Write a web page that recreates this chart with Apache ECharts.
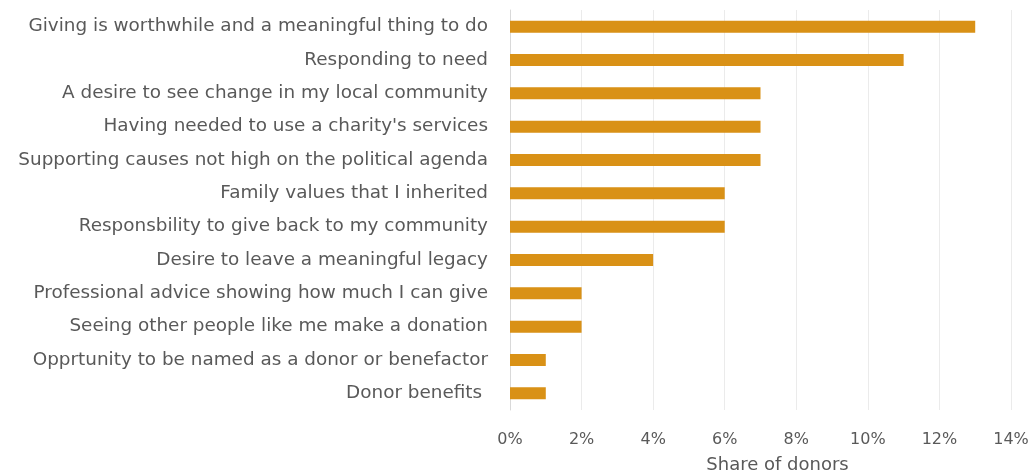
<!DOCTYPE html>
<html>
<head>
<meta charset="utf-8">
<script src="https://cdn.jsdelivr.net/npm/echarts@6/dist/echarts.min.js"></script>
<style>html,body{margin:0;padding:0;background:#fff}#c{width:1032px;height:472px}</style>
</head>
<body>
<div id="c"></div>
<script>
const categories = [
  "Giving is worthwhile and a meaningful thing to do",
  "Responding to need",
  "A desire to see change in my local community",
  "Having needed to use a charity's services",
  "Supporting causes not high on the political agenda",
  "Family values that I inherited",
  "Responsbility to give back to my community",
  "Desire to leave a meaningful legacy",
  "Professional advice showing how much I can give",
  "Seeing other people like me make a donation",
  "Opprtunity to be named as a donor or benefactor",
  "Donor benefits "
];
const values = [13, 11, 7, 7, 7, 6, 6, 4, 2, 2, 1, 1];
const xMin = 0, xMax = 14, xStep = 2;
const xName = "Share of donors";

const chart = echarts.init(document.getElementById('c'), null, {renderer: 'canvas'});
const font = "'DejaVu Sans', 'Open Sans', sans-serif";
chart.setOption({
  animation: false,
  grid: {left: 510, right: 21, top: 10, bottom: 62, containLabel: false, outerBoundsMode: 'none'},
  xAxis: {
    type: 'value', min: xMin, max: xMax, interval: xStep,
    name: xName, nameLocation: 'middle', nameGap: 46,
    nameTextStyle: {color: '#595959', fontSize: 18, fontFamily: font, padding: [0, 0, 0, 34]},
    axisLabel: {formatter: v => v + '%', color: '#595959', fontSize: 16, fontFamily: font, margin: 22},
    axisLine: {show: false}, axisTick: {show: false},
    splitLine: {lineStyle: {color: '#ebebeb', width: 1}}
  },
  yAxis: {
    type: 'category', data: categories, inverse: true,
    axisLabel: {color: '#595959', fontSize: 18.4, fontFamily: font, margin: 22},
    axisLine: {show: true, lineStyle: {color: '#d9d9d9', width: 1}},
    axisTick: {show: false}
  },
  series: [{
    type: 'bar', data: values, barWidth: 12,
    itemStyle: {color: '#D99116'}
  }]
});
</script>
</body>
</html>
